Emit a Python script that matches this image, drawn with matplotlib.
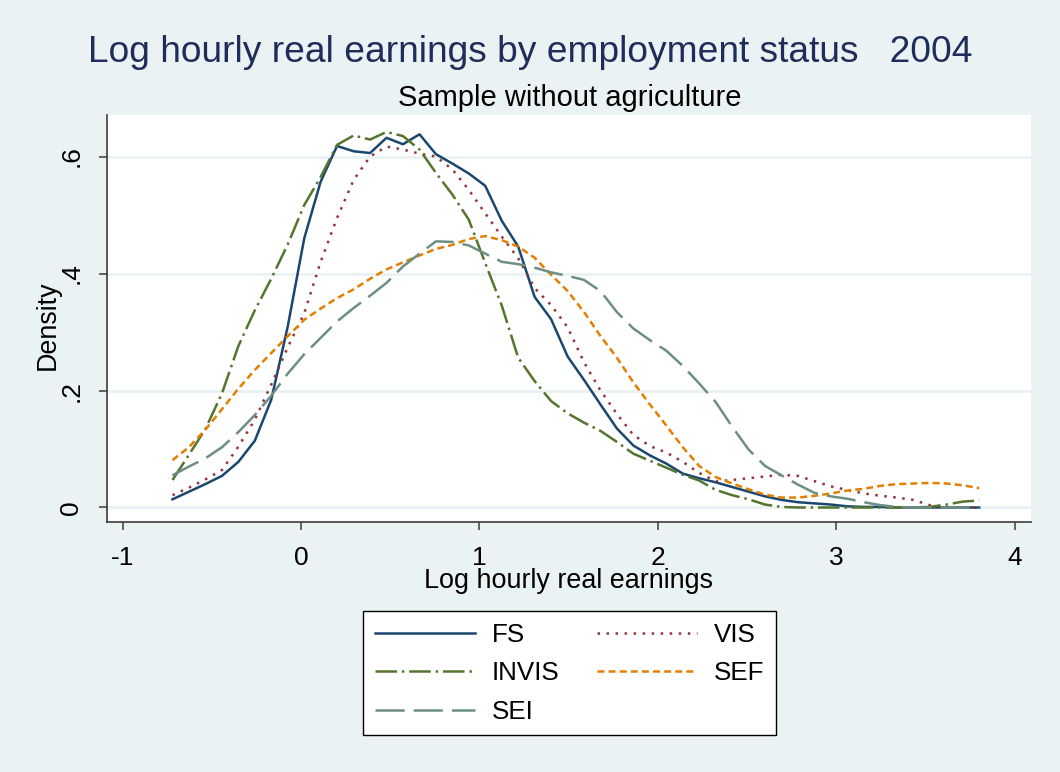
import matplotlib
matplotlib.use("Agg")
import matplotlib.pyplot as plt

plt.rcParams['font.family'] = ['Liberation Sans', 'DejaVu Sans']
plt.rcParams['lines.scale_dashes'] = False

# evaluation grid (log hourly real earnings)
x_grid = [-0.720, -0.628, -0.536, -0.443, -0.351, -0.259, -0.167, -0.074, 0.018, 0.110,
          0.202, 0.295, 0.387, 0.479, 0.571, 0.664, 0.756, 0.848, 0.940, 1.032,
          1.125, 1.217, 1.309, 1.401, 1.494, 1.586, 1.678, 1.770, 1.862, 1.955,
          2.047, 2.139, 2.231, 2.324, 2.416, 2.508, 2.600, 2.692, 2.785, 2.877,
          2.969, 3.061, 3.154, 3.246, 3.338, 3.430, 3.523, 3.615, 3.707, 3.800]

fs = [0.014, 0.027, 0.040, 0.054, 0.078, 0.114, 0.184, 0.310, 0.460, 0.557,
      0.618, 0.609, 0.606, 0.632, 0.621, 0.638, 0.604, 0.588, 0.571, 0.550,
      0.490, 0.446, 0.360, 0.322, 0.258, 0.218, 0.176, 0.135, 0.106, 0.089,
      0.075, 0.058, 0.050, 0.043, 0.035, 0.027, 0.019, 0.013, 0.009, 0.007,
      0.005, 0.002, 0.001, 0.001, 0.000, 0.000, 0.000, 0.000, 0.000, 0.000]

vis = [0.021, 0.034, 0.048, 0.064, 0.104, 0.150, 0.210, 0.274, 0.332, 0.420,
       0.495, 0.560, 0.600, 0.617, 0.612, 0.605, 0.600, 0.578, 0.543, 0.503,
       0.463, 0.426, 0.375, 0.346, 0.308, 0.248, 0.200, 0.160, 0.124, 0.105,
       0.094, 0.078, 0.059, 0.045, 0.047, 0.050, 0.053, 0.056, 0.054, 0.045,
       0.036, 0.030, 0.024, 0.020, 0.017, 0.013, 0.004, 0.001, 0.000, 0.000]

invis = [0.047, 0.090, 0.134, 0.195, 0.276, 0.337, 0.391, 0.450, 0.517, 0.565,
         0.620, 0.636, 0.629, 0.642, 0.635, 0.612, 0.572, 0.535, 0.492, 0.418,
         0.345, 0.256, 0.216, 0.182, 0.161, 0.145, 0.131, 0.112, 0.092, 0.080,
         0.068, 0.056, 0.046, 0.030, 0.021, 0.014, 0.005, 0.001, 0.000, 0.000,
         0.000, 0.000, 0.000, 0.000, 0.000, 0.000, 0.001, 0.005, 0.010, 0.012]

sef = [0.081, 0.103, 0.133, 0.168, 0.203, 0.235, 0.264, 0.293, 0.321, 0.340,
       0.358, 0.373, 0.391, 0.407, 0.419, 0.431, 0.442, 0.449, 0.459, 0.464,
       0.457, 0.446, 0.427, 0.398, 0.370, 0.334, 0.293, 0.256, 0.214, 0.176,
       0.140, 0.103, 0.071, 0.052, 0.041, 0.031, 0.022, 0.017, 0.017, 0.020,
       0.024, 0.029, 0.032, 0.037, 0.040, 0.041, 0.042, 0.041, 0.038, 0.033]

sei = [0.055, 0.070, 0.084, 0.103, 0.129, 0.158, 0.191, 0.229, 0.262, 0.290,
       0.318, 0.341, 0.362, 0.384, 0.412, 0.434, 0.455, 0.454, 0.448, 0.434,
       0.420, 0.416, 0.410, 0.402, 0.396, 0.389, 0.370, 0.334, 0.306, 0.286,
       0.268, 0.242, 0.212, 0.180, 0.138, 0.099, 0.071, 0.055, 0.039, 0.025,
       0.019, 0.015, 0.009, 0.004, 0.001, 0.000, 0.000, 0.000, 0.000, 0.000]

x_ticks = [-1, 0, 1, 2, 3, 4]
x_tick_labels = ['-1', '0', '1', '2', '3', '4']
y_ticks = [0, 0.2, 0.4, 0.6]
y_tick_labels = ['0', '.2', '.4', '.6']

title = "Log hourly real earnings by employment status   2004"
subtitle = "Sample without agriculture"
x_label = "Log hourly real earnings"
y_label = "Density"

BG = '#EAF2F3'
W, H = 1060, 772
fig = plt.figure(figsize=(W / 100, H / 100), dpi=100, facecolor=BG)

ax_l, ax_r, ax_t, ax_b = 107, 1031, 115, 522
ax = fig.add_axes([ax_l / W, 1 - ax_b / H, (ax_r - ax_l) / W, (ax_b - ax_t) / H])
ax.set_facecolor('white')

lw = 1.8
series = [
    ("FS", fs, '#1A476F', None),
    ("INVIS", invis, '#55752F', (0, (15.5, 3.5, 1.8, 3.5))),
    ("SEI", sei, '#6E8E84', (0, (21.0, 6.5))),
    ("VIS", vis, '#90353B', (0, (1.8, 4.7))),
    ("SEF", sef, '#E37E00', (0, (5.0, 3.0))),
]
draw_order = ["FS", "VIS", "INVIS", "SEF", "SEI"]
handles = {}
for name in draw_order:
    for (n, ys, c, dash) in series:
        if n == name:
            line, = ax.plot(x_grid, ys, color=c, lw=lw, label=n,
                            solid_joinstyle='round', dash_capstyle='butt')
            if dash is not None:
                line.set_linestyle(dash)
            handles[n] = line

ax.set_xlim(-1.087, 4.090)
ax.set_ylim(-0.0248, 0.671)
ax.set_xticks(x_ticks)
ax.set_xticklabels(x_tick_labels)
ax.set_yticks(y_ticks)
ax.set_yticklabels(y_tick_labels, rotation=90, va='center')
ax.grid(axis='y', color=BG, lw=2.0)
ax.set_axisbelow(True)
for s in ['top', 'right']:
    ax.spines[s].set_visible(False)
for s in ['left', 'bottom']:
    ax.spines[s].set_color('#3C3C3C')
    ax.spines[s].set_linewidth(1.2)
ax.tick_params(axis='both', direction='out', length=5.5, width=1.1, color='#3C3C3C',
               labelsize=19, labelcolor='black')
ax.tick_params(axis='x', pad=12)
ax.tick_params(axis='y', pad=11.5)

fig.text(530 / W, 1 - 52 / H, title, ha='center', va='center', fontsize=26.7, color='#1E2D5A')
fig.text(570 / W, 1 - 98 / H, subtitle, ha='center', va='center', fontsize=21, color='black')
fig.text(569 / W, 1 - 581 / H, x_label, ha='center', va='center', fontsize=19.4, color='black')
fig.text(48 / W, 1 - 325 / H, y_label, ha='center', va='center', rotation=90, fontsize=19.4, color='black')

order = ["FS", "INVIS", "SEI", "VIS", "SEF"]
leg = fig.legend([handles[n] for n in order], order, loc='upper center',
                 bbox_to_anchor=(569.5 / W, 1 - 611 / H), ncol=2, fontsize=18.7,
                 frameon=True, fancybox=False, edgecolor='black', facecolor='white',
                 framealpha=1.0, handlelength=3.85, handletextpad=0.65,
                 columnspacing=1.45, labelspacing=0.56, borderpad=0.45, borderaxespad=0)
leg.get_frame().set_linewidth(1.0)

fig.savefig('out.png', dpi=100, facecolor=BG)
